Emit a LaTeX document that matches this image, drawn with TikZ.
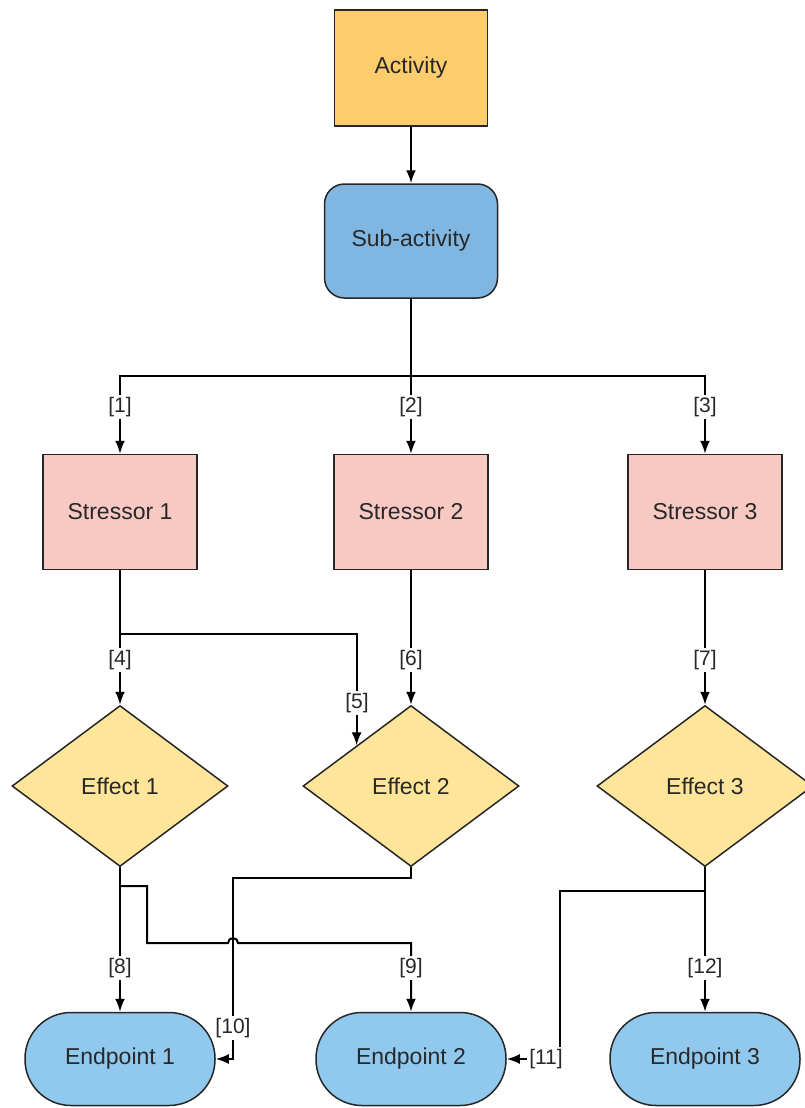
\documentclass[tikz,border=0pt]{standalone}
\usepackage{fontspec}
\setmainfont{Liberation Sans}
\usetikzlibrary{positioning,arrows.meta,shapes.geometric}

\definecolor{actorange}{RGB}{253,204,108}
\definecolor{subblue}{RGB}{128,183,226}
\definecolor{endblue}{RGB}{145,201,238}
\definecolor{stresspink}{RGB}{248,200,194}
\definecolor{effyellow}{RGB}{254,229,153}
\definecolor{txtgray}{RGB}{40,40,40}

\tikzset{
  box/.style={draw=black!85, line width=1.5pt, text=txtgray, font=\fontsize{23}{27}\selectfont},
  activity/.style={box, fill=actorange, minimum width=153pt, minimum height=116pt},
  subact/.style={box, fill=subblue, rounded corners=20pt, minimum width=173pt, minimum height=114pt},
  stressor/.style={box, fill=stresspink, minimum width=154pt, minimum height=115pt},
  effect/.style={box, diamond, aspect=1.34, fill=effyellow, minimum width=216pt, minimum height=161pt},
  endpoint/.style={box, fill=endblue, rounded corners=46pt, minimum width=190pt, minimum height=93pt},
  lbl/.style={fill=white, inner sep=2pt, text=txtgray, font=\fontsize{21}{24}\selectfont}
}

\begin{document}
\begin{tikzpicture}[x=1pt, y=-1pt, line width=2pt, >={Latex[length=13pt,width=10pt]}]
  \useasboundingbox (0,0) rectangle (804,1108);

  \node[activity] (act) at (411,68) {Activity};
  \node[subact] (sub) at (411,241) {Sub-activity};
  \node[stressor] (s1) at (120,512) {Stressor 1};
  \node[stressor] (s2) at (411,512) {Stressor 2};
  \node[stressor] (s3) at (705,512) {Stressor 3};
  \node[effect] (e1) at (120,786) {Effect 1};
  \node[effect] (e2) at (411,786) {Effect 2};
  \node[effect] (e3) at (705,786) {Effect 3};
  \node[endpoint] (p1) at (120,1059) {Endpoint 1};
  \node[endpoint] (p2) at (411,1059) {Endpoint 2};
  \node[endpoint] (p3) at (705,1059) {Endpoint 3};

  \coordinate (b1) at (411,376);
  \coordinate (c4) at (120,634);
  \coordinate (c8) at (120,886);
  \coordinate (c12) at (705,891);
  \coordinate (c10) at (233,1059);
  \coordinate (c11) at (560,1059);

  \draw[->] (act) -- (sub);
  \draw (sub) -- (b1);
  \draw[->] (b1) -| (s1);
  \draw[->] (b1) -- (s2);
  \draw[->] (b1) -| (s3);

  \draw[->] (s1) -- (e1);
  \draw[->] (c4) -| (e2.north west);
  \draw[->] (s2) -- (e2);
  \draw[->] (s3) -- (e3);

  \draw[->] (e1) -- (p1);
  \draw[->] (c8) -- ++(27,0) |- (228,943) arc[start angle=180, end angle=0, radius=5pt] -| (p2);
  \draw[->] (e2.south) -- ++(0,11) -| (c10) -- (p1);
  \draw[->] (c12) -| (c11) -- (p2);
  \draw[->] (e3) -- (p3);

  \node[lbl] (l1) at (120,407) {[1]};
  \node[lbl] (l2) at (411,407) {[2]};
  \node[lbl] (l3) at (705,407) {[3]};
  \node[lbl] (l4) at (120,660) {[4]};
  \node[lbl] (l5) at (357,703) {[5]};
  \node[lbl] (l6) at (411,660) {[6]};
  \node[lbl] (l7) at (705,660) {[7]};
  \node[lbl] (l8) at (120,968) {[8]};
  \node[lbl] (l9) at (411,968) {[9]};
  \node[lbl] (l10) at (233,1028) {[10]};
  \node[lbl] (l11) at (546,1059) {[11]};
  \node[lbl] (l12) at (705,968) {[12]};
\end{tikzpicture}
\end{document}
